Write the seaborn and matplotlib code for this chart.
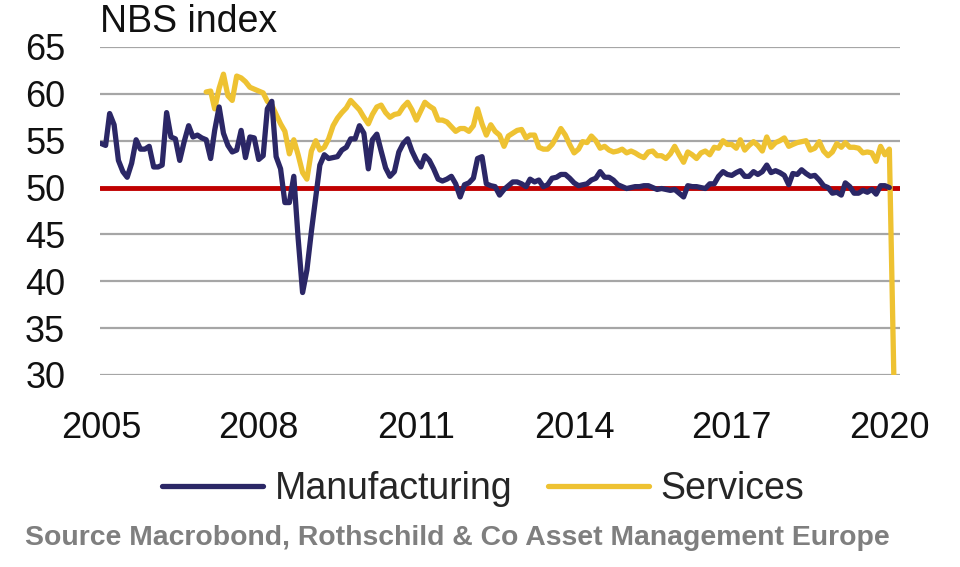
import numpy as np
import pandas as pd
import matplotlib
matplotlib.use("Agg")
import matplotlib.pyplot as plt
import seaborn as sns

# NBS PMI, monthly, manufacturing from Jan 2005, services from Jan 2007
manufacturing = [
    54.7, 54.5, 57.9, 56.7, 52.9, 51.7, 51.1, 52.6, 55.1, 54.1, 54.1, 54.4,  # 2005
    52.2, 52.2, 52.4, 58.0, 55.4, 55.2, 52.9, 54.9, 56.6, 55.4, 55.6, 55.3,  # 2006
    55.1, 53.1, 56.1, 58.6, 55.8, 54.5, 53.8, 54.0, 56.1, 53.2, 55.4, 55.3,  # 2007
    53.0, 53.4, 58.4, 59.2, 53.3, 52.0, 48.4, 48.4, 51.2, 44.6, 38.8, 41.2,  # 2008
    45.3, 49.0, 52.4, 53.5, 53.1, 53.2, 53.3, 54.0, 54.3, 55.2, 55.2, 56.6,  # 2009
    55.8, 52.0, 55.1, 55.7, 53.9, 52.1, 51.2, 51.7, 53.8, 54.7, 55.2, 53.9,  # 2010
    52.9, 52.2, 53.4, 52.9, 52.0, 50.9, 50.7, 50.9, 51.2, 50.4, 49.0, 50.3,  # 2011
    50.5, 51.0, 53.1, 53.3, 50.4, 50.2, 50.1, 49.2, 49.8, 50.2, 50.6, 50.6,  # 2012
    50.4, 50.1, 50.9, 50.6, 50.8, 50.1, 50.3, 51.0, 51.1, 51.4, 51.4, 51.0,  # 2013
    50.5, 50.2, 50.3, 50.4, 50.8, 51.0, 51.7, 51.1, 51.1, 50.8, 50.3, 50.1,  # 2014
    49.9, 50.0, 50.1, 50.1, 50.2, 50.2, 50.0, 49.8, 49.9, 49.8, 49.7, 49.8,  # 2015
    49.4, 49.0, 50.2, 50.1, 50.1, 50.0, 49.9, 50.4, 50.4, 51.2, 51.7, 51.4,  # 2016
    51.3, 51.6, 51.8, 51.2, 51.2, 51.7, 51.4, 51.7, 52.4, 51.6, 51.8, 51.6,  # 2017
    51.3, 50.3, 51.5, 51.4, 51.9, 51.5, 51.2, 51.3, 50.8, 50.2, 50.0, 49.4,  # 2018
    49.5, 49.2, 50.5, 50.1, 49.4, 49.4, 49.7, 49.5, 49.8, 49.3, 50.2, 50.2,  # 2019
    50.0,                                                                    # 2020
]
services = [
    60.2, 60.3, 58.4, 60.6, 62.1, 59.8, 59.3, 61.9, 61.7, 61.3, 60.7, 60.5,  # 2007
    60.3, 60.1, 59.2, 58.8, 57.8, 56.8, 56.0, 53.6, 55.1, 53.5, 51.6, 50.9,  # 2008
    53.9, 55.0, 54.0, 54.3, 55.2, 56.6, 57.4, 58.0, 58.5, 59.3, 58.8, 58.3,  # 2009
    57.5, 56.8, 57.8, 58.6, 58.8, 58.0, 57.5, 57.8, 57.9, 58.6, 59.1, 58.3,  # 2010
    57.2, 58.2, 59.1, 58.7, 58.4, 57.2, 57.2, 57.0, 56.5, 56.0, 56.3, 56.3,  # 2011
    56.0, 56.6, 58.4, 56.8, 55.6, 56.7, 56.0, 55.6, 54.4, 55.5, 55.8, 56.1,  # 2012
    56.2, 55.3, 55.6, 55.6, 54.3, 54.1, 54.1, 54.6, 55.4, 56.3, 55.6, 54.6,  # 2013
    53.7, 54.1, 54.9, 54.8, 55.5, 55.0, 54.2, 54.4, 54.0, 53.8, 53.9, 54.1,  # 2014
    53.7, 53.9, 53.7, 53.4, 53.2, 53.8, 53.9, 53.4, 53.4, 53.1, 53.6, 54.4,  # 2015
    53.5, 52.7, 53.8, 53.5, 53.1, 53.7, 53.9, 53.5, 54.3, 54.2, 55.0, 54.6,  # 2016
    54.6, 54.2, 55.1, 54.0, 54.5, 54.9, 54.5, 53.9, 55.4, 54.3, 54.8, 55.0,  # 2017
    55.3, 54.4, 54.6, 54.8, 54.9, 55.0, 54.0, 54.2, 54.9, 53.9, 53.4, 53.8,  # 2018
    54.7, 54.3, 54.8, 54.3, 54.3, 54.2, 53.7, 53.8, 53.7, 52.8, 54.4, 53.5,  # 2019
    54.1, 30.0,                                                              # 2020
]
threshold = 50
y_ticks = [30, 35, 40, 45, 50, 55, 60, 65]
x_tick_years = [2005, 2008, 2011, 2014, 2017, 2020]

NAVY = "#2B2766"
YELLOW = "#EEC232"
RED = "#C00000"
GRID = "#A6A6A6"

mfg_df = pd.DataFrame({
    "date": pd.date_range("2005-01-01", periods=len(manufacturing), freq="MS"),
    "value": manufacturing,
})
srv_df = pd.DataFrame({
    "date": pd.date_range("2007-01-01", periods=len(services), freq="MS"),
    "value": services,
})

sns.set_theme(style="white")
plt.rcParams["font.family"] = ["Liberation Sans", "DejaVu Sans"]

fig = plt.figure(figsize=(9.6, 5.67), dpi=100)
ax = fig.add_axes([100 / 960, 1 - 375 / 567, 800 / 960, 328 / 567])

ax.axhline(threshold, color=RED, lw=3.5, zorder=2)
sns.lineplot(data=srv_df, x="date", y="value", ax=ax, color=YELLOW, lw=3.8,
             label="Services", zorder=3)
sns.lineplot(data=mfg_df, x="date", y="value", ax=ax, color=NAVY, lw=3.8,
             label="Manufacturing", zorder=4)

ax.set_ylim(30, 65)
ax.set_xlim(pd.Timestamp("2004-12-24"), pd.Timestamp("2020-03-15"))
ax.set_yticks(y_ticks)
ax.set_xticks([pd.Timestamp(f"{y}-01-01") for y in x_tick_years])
ax.set_xticklabels([str(y) for y in x_tick_years])
ax.tick_params(axis="both", length=0, labelsize=26, colors="#111111")
ax.tick_params(axis="y", pad=25)
ax.tick_params(axis="x", pad=26)
ax.grid(axis="y", color=GRID, lw=1.6, zorder=0)
ax.grid(axis="x", visible=False)
ax.set_axisbelow(True)
for s in ax.spines.values():
    s.set_visible(False)
ax.set_xlabel("")
ax.set_ylabel("")

ax.text(0.0, 1.02, "NBS index", transform=ax.transAxes, fontsize=27,
        ha="left", va="bottom", color="#111111")

handles, labels = ax.get_legend_handles_labels()
order = [labels.index("Manufacturing"), labels.index("Services")]
ax.get_legend().remove()
fig.legend([handles[i] for i in order], [labels[i] for i in order],
           loc="center", bbox_to_anchor=(0.503, 1 - 489 / 567), ncol=2,
           frameon=False, fontsize=27, handlelength=2.7, handletextpad=0.3,
           columnspacing=0.95)

fig.text(25 / 960, 1 - 538 / 567,
         "Source Macrobond, Rothschild & Co Asset Management Europe",
         fontsize=20.4, fontweight="bold", color="#7F7F7F", ha="left", va="center")

fig.savefig("out.png", dpi=100, facecolor="white")
